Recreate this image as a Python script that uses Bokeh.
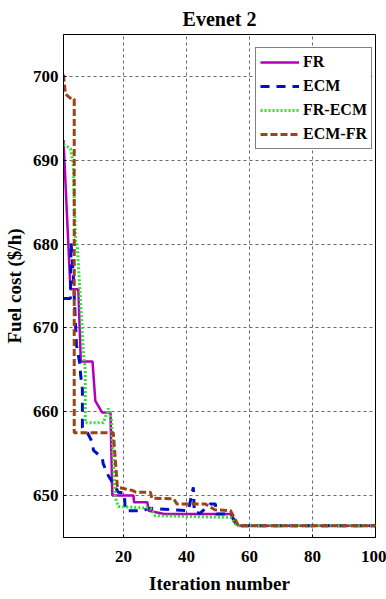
from bokeh.plotting import figure
from bokeh.models import Legend, LegendItem, FixedTicker, Range1d
from bokeh.embed import file_html
from bokeh.resources import INLINE

# ---- data ----
fr_x = [1, 3.2, 5.7, 6.5, 10.2, 11.1, 13.3, 15.9, 16.5, 23.2, 23.4, 27.6, 28, 33, 54, 56.5, 100]
fr_y = [692.4, 674.6, 674.6, 666, 666, 661.3, 659.9, 659.9, 650, 650, 649.2, 649.2, 648.2, 647.8, 647.8, 646.4, 646.4]

ecm_x = [1, 3.2, 3.4, 4.1, 5.1, 6.3, 6.4, 7.0, 7.0, 7.0, 8.6, 10.2, 10.5, 13.3, 13.6, 15.2, 16.8,
         18.4, 20.3, 20.6, 26.3, 28, 40.6, 42.2, 42.5, 44.4, 47.6, 49.2, 49.5, 54, 56, 100]
ecm_y = [673.5, 673.5, 680.2, 676.4, 668, 665.5, 664.5, 662.7, 660.7, 658.1, 657.5, 656.3, 655.4, 654.5, 653.8, 652.4, 651.4,
         650.4, 650.3, 648.2, 648.2, 648.5, 648.2, 651, 648, 647.9, 649, 649, 647.8, 647.8, 646.4, 646.4]

frecm_x = [1, 3.2, 4.1, 4.8, 5.4, 7.3, 7.9, 7.9, 13.7, 15.2, 16.2, 17.4, 18.4, 28.6, 30, 54, 56, 100]
frecm_y = [691.9, 691.4, 689.6, 680, 679.8, 667, 665, 658.7, 658.7, 660.4, 659, 649.8, 648.7, 648.5, 647.6, 647.4, 646.4, 646.4]

ecmfr_x = [1, 1.6, 3.5, 4.4, 4.4, 16.8, 17.5, 18.1, 23, 24, 28.6, 29, 36, 37, 46, 49, 54, 56.5, 100]
ecmfr_y = [700.2, 697.9, 697.3, 697.3, 657.5, 657.5, 654, 651, 650.6, 650.4, 650.4, 649.7, 649.6, 649, 649, 648.3, 648.2, 646.4, 646.4]

x_ticks = [20, 40, 60, 80, 100]
y_ticks = [650, 660, 670, 680, 690, 700]
series_names = ["FR", "ECM", "FR-ECM", "ECM-FR"]

FONT = "Liberation Serif"

p = figure(width=386, height=599, output_backend="svg", toolbar_location=None,
           x_range=Range1d(1, 100), y_range=Range1d(645, 705),
           min_border_left=63, min_border_right=11, min_border_top=34, min_border_bottom=62)

p.title.text = "Evenet 2"
p.title.align = "center"
p.title.text_font = FONT
p.title.text_font_style = "bold"
p.title.text_font_size = "20px"
p.title.text_color = "black"
p.title.offset = 2

r1 = p.line(fr_x, fr_y, line_color="#b000b8", line_width=2.5)
r2 = p.line(ecm_x, ecm_y, line_color="#0010c8", line_width=3, line_dash="9 7")
r3 = p.line(frecm_x, frecm_y, line_color="#33dd33", line_width=3, line_dash="2 2")
r4 = p.line(ecmfr_x, ecmfr_y, line_color="#9c4418", line_width=3, line_dash="7 3")

p.xaxis.ticker = FixedTicker(ticks=x_ticks)
p.yaxis.ticker = FixedTicker(ticks=y_ticks)
for ax in (p.xaxis[0], p.yaxis[0]):
    ax.major_label_text_font = FONT
    ax.major_label_text_font_style = "bold"
    ax.major_label_text_font_size = "17px"
    ax.major_label_text_color = "black"
    ax.axis_label_text_font = FONT
    ax.axis_label_text_font_style = "bold"
    ax.axis_label_text_font_size = "19px"
    ax.axis_label_text_color = "black"
    ax.axis_line_color = "black"
    ax.major_tick_line_color = "black"
    ax.major_tick_in = 3
    ax.major_tick_out = 0
    ax.minor_tick_line_color = None
p.xaxis.axis_label = "Iteration number"
p.yaxis.axis_label = "Fuel cost ($/h)"
p.xaxis.major_label_standoff = 13
p.yaxis.major_label_standoff = 5
p.xaxis.axis_label_standoff = 8
p.yaxis.axis_label_standoff = 5

p.xgrid.ticker = FixedTicker(ticks=[20, 40, 60, 80])
p.ygrid.ticker = FixedTicker(ticks=y_ticks)
for g in (p.xgrid[0], p.ygrid[0]):
    g.grid_line_color = "#444444"
    g.grid_line_dash = "3 3"
    g.grid_line_width = 1
    g.grid_line_alpha = 0.8

p.outline_line_color = "black"
p.outline_line_width = 1
p.background_fill_color = "white"
p.border_fill_color = "white"

legend = Legend(items=[LegendItem(label=n, renderers=[r]) for n, r in zip(series_names, [r1, r2, r3, r4])],
                location=(192, 388))
legend.label_text_font = FONT
legend.label_text_font_style = "bold"
legend.label_text_font_size = "16px"
legend.label_text_color = "black"
legend.glyph_width = 39
legend.glyph_height = 20
legend.label_height = 20
legend.spacing = 4
legend.padding = 4
legend.margin = 0
legend.label_standoff = 4
legend.border_line_color = "black"
legend.border_line_width = 1
legend.background_fill_alpha = 1
p.add_layout(legend, "center")

open("out.html", "w").write(file_html(p, INLINE))
